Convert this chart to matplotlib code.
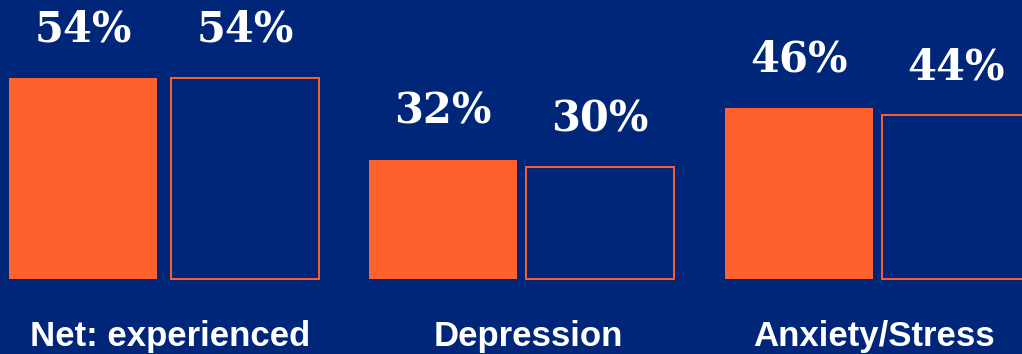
import matplotlib
matplotlib.use("Agg")
import matplotlib.pyplot as plt

categories = ["Net: experienced", "Depression", "Anxiety/Stress"]
series_a = [54, 32, 46]   # filled orange bars
series_b = [54, 30, 44]   # outlined bars
label_a = ["54%", "32%", "46%"]
label_b = ["54%", "30%", "44%"]

BG = "#00267A"
ORANGE = "#FF612C"

fig = plt.figure(figsize=(10.22, 3.54), dpi=100)
fig.patch.set_facecolor(BG)
ax = fig.add_axes([0, 0, 1, 1])
ax.set_facecolor(BG)
ax.set_xlim(0, 1022)
ax.set_ylim(-20.2, 75.0)
ax.axis("off")

xa = [83, 443, 799]
xb = [245, 600, 956]
width = 148

ax.bar(xa, series_a, width=width, color=ORANGE, edgecolor="none")
ax.bar(xb, series_b, width=width, facecolor=BG, edgecolor=ORANGE, linewidth=1.4)

num_font = dict(family=["DejaVu Serif"], fontweight="bold", fontsize=30, color="white")
for x, v, t in zip(xa, series_a, label_a):
    ax.annotate(t, (x, v), xytext=(0, 26), textcoords="offset points", ha="center", va="baseline", **num_font)
for x, v, t in zip(xb, series_b, label_b):
    ax.annotate(t, (x, v), xytext=(0, 26), textcoords="offset points", ha="center", va="baseline", **num_font)

label_x = [170, 528, 874]
for x, c in zip(label_x, categories):
    ax.text(x, -18.0, c, ha="center", va="baseline", color="white", fontsize=25,
            fontweight="bold", family=["Liberation Sans", "DejaVu Sans"])

fig.savefig("out.png", dpi=100, facecolor=BG)
